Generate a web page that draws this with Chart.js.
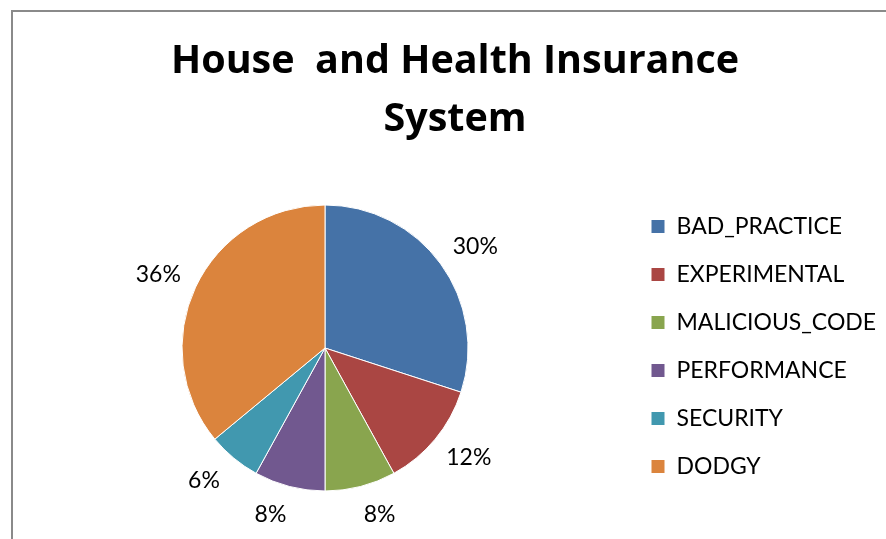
<!DOCTYPE html>
<html>
<head>
<meta charset="utf-8">
<script src="https://cdn.jsdelivr.net/npm/chart.js@4/dist/chart.umd.min.js"></script>
<style>
    html, body { margin: 0; padding: 0; background: #fff; overflow: hidden; }
    #wrap { position: relative; width: 886px; height: 539px; }
    #frame {
        position: absolute; left: 11px; top: 10px; width: 900px; height: 560px;
        border-left: 2px solid #8a8a8a; border-top: 2px solid #8a8a8a;
        pointer-events: none;
    }
    canvas { position: absolute; left: 0; top: 0; }
</style>
</head>
<body>
<div id="wrap">
    <canvas id="chart-bugs" width="886" height="539"></canvas>
    <div id="frame"></div>
</div>
<script>
const titleLines = ['House  and Health Insurance', 'System'];
const categories = ['BAD_PRACTICE', 'EXPERIMENTAL', 'MALICIOUS_CODE', 'PERFORMANCE', 'SECURITY', 'DODGY'];
const shares = [30, 12, 8, 8, 6, 36];
const sliceColors = ['#4572a7', '#aa4643', '#89a54e', '#71588f', '#4198af', '#db843d'];

const FONT = 'Lato, "Open Sans", "Liberation Sans", sans-serif';
const TITLE_FONT = '"Open Sans", Lato, "Liberation Sans", sans-serif';

// percentage labels just outside each slice, nudged sideways away from the pie
const outsideLabels = {
    id: 'outsideLabels',
    afterDatasetsDraw(chart) {
        const ctx = chart.ctx;
        const meta = chart.getDatasetMeta(0);
        const values = chart.data.datasets[0].data;
        const total = values.reduce((a, b) => a + b, 0);
        ctx.save();
        ctx.font = '23px ' + FONT;
        ctx.fillStyle = '#000';
        ctx.textAlign = 'center';
        ctx.textBaseline = 'middle';
        meta.data.forEach((arc, i) => {
            const p = arc.getProps(['x', 'y', 'startAngle', 'endAngle', 'outerRadius'], true);
            const mid = (p.startAngle + p.endAngle) / 2;
            const txt = Math.round(values[i] / total * 100) + '%';
            const cos = Math.cos(mid), sin = Math.sin(mid);
            const lx = p.x + cos * (p.outerRadius + 28) + Math.sign(cos) * 12;
            const ly = p.y + sin * (p.outerRadius + 29);
            ctx.fillText(txt, lx, ly);
        });
        ctx.restore();
    }
};

const ctx = document.getElementById('chart-bugs').getContext('2d');
new Chart(ctx, {
    type: 'pie',
    data: {
        labels: categories,
        datasets: [{
            data: shares,
            backgroundColor: sliceColors,
            borderColor: '#ffffff',
            borderWidth: 1,
            radius: 143
        }]
    },
    options: {
        responsive: false,
        animation: false,
        devicePixelRatio: 1,
        layout: { padding: { top: 10, left: 24, right: 0, bottom: 36 } },
        plugins: {
            title: {
                display: true,
                text: titleLines,
                color: '#000',
                font: { family: TITLE_FONT, size: 39.5, weight: 'bold', lineHeight: '58px' },
                padding: { top: 23, bottom: 44 }
            },
            legend: {
                position: 'right',
                align: 'end',
                maxWidth: 260,
                labels: {
                    color: '#000',
                    font: { family: FONT, size: 23 },
                    boxWidth: 14,
                    boxHeight: 14,
                    padding: 25
                }
            },
            tooltip: { enabled: false }
        }
    },
    plugins: [outsideLabels]
});
</script>
</body>
</html>
